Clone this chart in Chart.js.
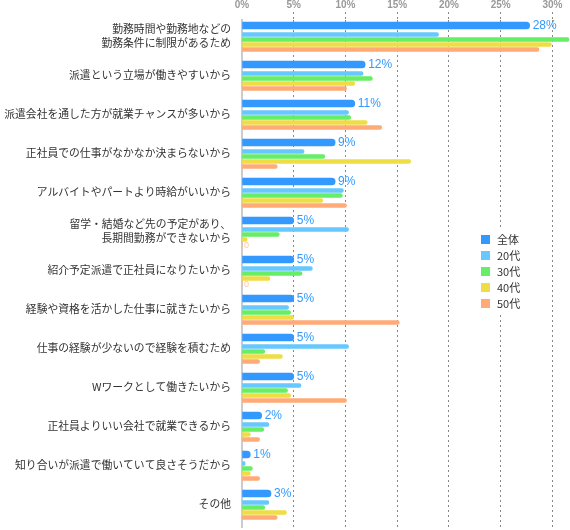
<!DOCTYPE html>
<html lang="ja">
<head>
<meta charset="utf-8">
<script src="https://cdn.jsdelivr.net/npm/chart.js@4/dist/chart.umd.min.js"></script>
<style>
    html, body { margin: 0; padding: 0; background: #fff; overflow: hidden; }
    canvas { display: block; }
</style>
</head>
<body>
<canvas id="reasonChart" width="570" height="530"></canvas>
<script>
const reasons = [
    ['勤務時間や勤務地などの', '勤務条件に制限があるため'],
    '派遣という立場が働きやすいから',
    '派遣会社を通した方が就業チャンスが多いから',
    '正社員での仕事がなかなか決まらないから',
    'アルバイトやパートより時給がいいから',
    ['留学・結婚など先の予定があり、', '長期間勤務ができないから'],
    '紹介予定派遣で正社員になりたいから',
    '経験や資格を活かした仕事に就きたいから',
    '仕事の経験が少ないので経験を積むため',
    'Wワークとして働きたいから',
    '正社員よりいい会社で就業できるから',
    '知り合いが派遣で働いていて良さそうだから',
    'その他'
];

const seriesNames = ['全体', '20代', '30代', '40代', '50代'];
const seriesColors = ['#3399ff', '#66c8ff', '#66ee66', '#eedd44', '#ffaa77'];

const allAges = [27.8, 11.9, 10.9, 9.0, 9.0, 5.0, 5.0, 5.0, 5.0, 5.0, 1.9, 0.8, 2.8];
const age20s = [19.0, 11.7, 10.3, 6.0, 9.8, 10.3, 6.8, 4.5, 10.3, 5.7, 2.6, 0.3, 2.6];
const age30s = [31.6, 12.6, 10.5, 8.0, 9.7, 3.6, 5.8, 4.7, 2.2, 4.4, 2.1, 1.0, 2.2];
const age40s = [29.9, 10.9, 12.1, 16.3, 7.8, 0.5, 2.7, 5.0, 3.9, 4.7, 0.8, 0.8, 4.3];
const age50s = [28.7, 10.1, 13.5, 3.4, 10.1, 0, 0, 15.2, 1.7, 10.1, 1.7, 1.7, 3.4];

const percentTicks = [0, 5, 10, 15, 20, 25, 30];
const axisMax = 31.7;

const seriesData = [allAges, age20s, age30s, age40s, age50s];

// labels next to the bars + the small legend box on the right
const barLabels = {
    id: 'barLabels',
    afterDatasetsDraw(chart) {
        const ctx = chart.ctx;
        ctx.save();
        ctx.textBaseline = 'middle';

        const main = chart.getDatasetMeta(0);
        ctx.font = '12px "Liberation Sans", Arial, sans-serif';
        ctx.fillStyle = seriesColors[0];
        main.data.forEach((bar, i) => {
            ctx.fillText(Math.round(allAges[i]) + '%', bar.x + 3, bar.y + 0.5);
        });

        // zero values get a faint "0"
        ctx.font = '9px "Liberation Sans", Arial, sans-serif';
        seriesData.forEach((vals, d) => {
            const meta = chart.getDatasetMeta(d);
            vals.forEach((v, i) => {
                if (v === 0) {
                    ctx.fillStyle = 'rgba(255,170,119,0.7)';
                    ctx.fillText('0', meta.data[i].x + 2, meta.data[i].y + 1);
                }
            });
        });

        ctx.fillStyle = '#fff';
        ctx.fillRect(472, 230, 80, 82);
        ctx.font = '11px "Noto Sans CJK JP", sans-serif';
        seriesNames.forEach((name, i) => {
            const y = 239.5 + i * 16;
            ctx.fillStyle = seriesColors[i];
            ctx.fillRect(481, y - 4.5, 9, 9);
            ctx.fillStyle = '#333';
            ctx.fillText(name, 497, y + 0.5);
        });
        ctx.restore();
    }
};

function buildDatasets() {
    return seriesNames.map((name, i) => ({
        label: name,
        data: seriesData[i],
        backgroundColor: seriesColors[i],
        barThickness: i === 0 ? 7 : 5,
        maxBarThickness: i === 0 ? 7 : 4,
        borderRadius: i === 0 ? 3.5 : 2,
        borderSkipped: 'start'
    }));
}

const ctx = document.getElementById('reasonChart').getContext('2d');
const myChart = new Chart(ctx, {
    type: 'bar',
    data: {
        labels: reasons,
        datasets: buildDatasets()
    },
    options: {
        indexAxis: 'y',
        responsive: false,
        devicePixelRatio: 1,
        animation: false,
        layout: { padding: { left: 0, right: 0, top: 0, bottom: 3 } },
        plugins: {
            legend: { display: false },
            tooltip: { enabled: false }
        },
        scales: {
            x: {
                position: 'top',
                min: 0,
                max: axisMax,
                afterBuildTicks: (scale) => {
                    scale.ticks = percentTicks.map(v => ({ value: v }));
                },
                afterFit: (scale) => {
                    scale.height = 20;
                    scale.paddingLeft = 0;
                    scale.paddingRight = 0;
                },
                border: { display: false, dash: [2, 3] },
                grid: {
                    color: (c) => c.tick && c.tick.value === 0 ? 'rgba(0,0,0,0)' : '#888',
                    tickColor: (c) => c.tick && c.tick.value === 0 ? 'rgba(0,0,0,0)' : '#888',
                    tickBorderDash: [2, 3],
                    lineWidth: 1,
                    tickLength: 8
                },
                ticks: {
                    padding: 1,
                    color: '#999',
                    font: { family: '"Liberation Sans", Arial, sans-serif', size: 10, weight: 'bold' },
                    callback: (v) => v + '%'
                }
            },
            y: {
                afterFit: (scale) => {
                    scale.width = 242;
                    scale.paddingTop = 0;
                    scale.paddingBottom = 0;
                },
                grid: { display: false, drawTicks: false },
                border: { display: true, color: '#cccccc', width: 2 },
                ticks: {
                    padding: 11,
                    labelOffset: -4,
                    color: '#333',
                    font: { family: '"Noto Sans CJK JP", sans-serif', size: 10.8, lineHeight: 1.3 }
                }
            }
        }
    },
    plugins: [barLabels]
});
</script>
</body>
</html>
